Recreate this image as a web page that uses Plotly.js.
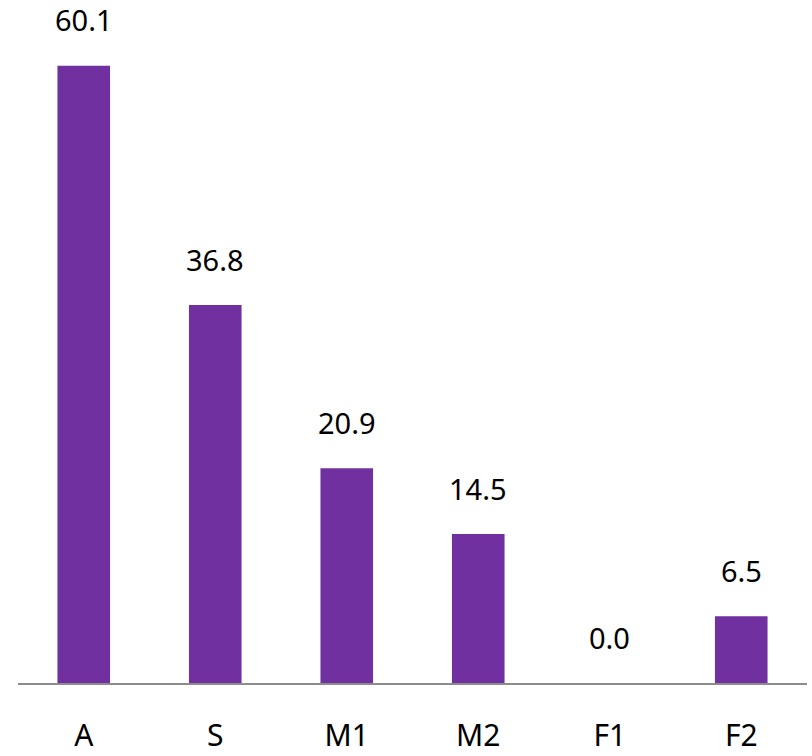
<!DOCTYPE html>
<html>
<head>
<meta charset="utf-8">
<script src="https://cdn.plot.ly/plotly-3.0.1.min.js"></script>
<style>html,body{margin:0;padding:0;background:#fff;}#chart{width:812px;height:756px;}</style>
</head>
<body>
<div id="chart"></div>
<script>
const categories = ["A", "S", "M1", "M2", "F1", "F2"];
const values = [60.1, 36.8, 20.9, 14.5, 0.0, 6.5];
const valueLabels = values.map(v => v.toFixed(1));

const FONT = "Noto Sans, Lato, sans-serif";

const trace = {
  type: "bar",
  x: categories,
  y: values,
  marker: { color: "#7030A0" },
  hoverinfo: "x+y"
};

const annotations = categories.map((c, i) => ({
  x: c,
  y: values[i],
  xref: "x",
  yref: "y",
  text: valueLabels[i],
  showarrow: false,
  yanchor: "middle",
  yshift: 46,
  font: { family: FONT, size: 29, color: "#000000" }
}));

const layout = {
  width: 812,
  height: 756,
  margin: { l: 18, r: 5, t: 0, b: 73 },
  paper_bgcolor: "#ffffff",
  plot_bgcolor: "#ffffff",
  bargap: 0.6,
  showlegend: false,
  xaxis: {
    type: "category",
    showline: true,
    linecolor: "#8c8c8c",
    linewidth: 1.5,
    ticks: "",
    showgrid: false,
    zeroline: false,
    tickfont: { family: FONT, size: 30, color: "#000000" },
    ticklabelstandoff: 25
  },
  yaxis: {
    range: [0, 66.5],
    visible: false,
    showgrid: false,
    zeroline: false
  },
  annotations: annotations
};

Plotly.newPlot("chart", [trace], layout, { staticPlot: true, displayModeBar: false });
</script>
</body>
</html>
